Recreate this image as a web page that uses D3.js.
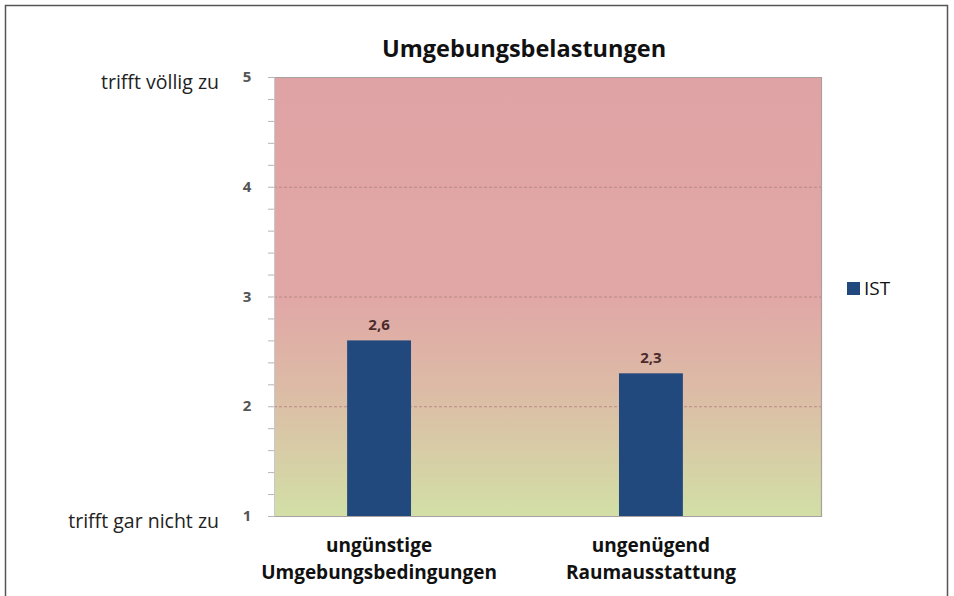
<!DOCTYPE html>
<html>
<head>
<meta charset="utf-8">
<script src="https://cdn.jsdelivr.net/npm/d3@7"></script>
<style>
  body { margin: 0; background: #fff; }
  svg { display: block; font-family: "Open Sans", "Noto Sans", sans-serif; }
</style>
</head>
<body>
<svg id="chart" width="954" height="596"></svg>
<script>
// ---- data ----
const categories = ["ungünstige\nUmgebungsbedingungen", "ungenügend\nRaumausstattung"];
const istValues = [2.6, 2.3];
const valueLabels = ["2,6", "2,3"];
const yTicks = [1, 2, 3, 4, 5];
const scaleLabels = [{v: 5, text: "trifft völlig zu"}, {v: 1, text: "trifft gar nicht zu"}];
const seriesName = "IST";

const svg = d3.select("#chart");

// outer frame (left, top, right)
svg.append("path")
    .attr("d", "M5.5,600 V5.5 H947.5 V600")
    .attr("fill", "none")
    .attr("stroke", "#555")
    .attr("stroke-width", 1.5);

const plot = {left: 274, right: 821, top: 77, bottom: 516};

const y = d3.scaleLinear().domain([1, 5]).range([plot.bottom, plot.top]);
// bars are not centred in the plot area in the original
const x = d3.scaleBand().domain(categories).range([243, 787]).paddingInner(0.765).paddingOuter(0.383);

// background gradient red -> green
const defs = svg.append("defs");
const grad = defs.append("linearGradient")
    .attr("id", "bg").attr("x1", 0).attr("y1", 0).attr("x2", 0).attr("y2", 1);
[[0, "#e0a3a5"], [0.5, "#e1a7a6"], [0.72, "#dcbca6"], [1, "#d2dfa6"]]
    .forEach(([o, c]) => grad.append("stop").attr("offset", o).attr("stop-color", c));

svg.append("rect")
    .attr("x", plot.left).attr("y", plot.top)
    .attr("width", plot.right - plot.left).attr("height", plot.bottom - plot.top)
    .attr("fill", "url(#bg)");

// gridlines
svg.append("g")
    .selectAll("line")
    .data(yTicks.filter(d => d > 1 && d < 5))
    .join("line")
    .attr("x1", plot.left).attr("x2", plot.right)
    .attr("y1", d => y(d) + 0.5).attr("y2", d => y(d) + 0.5)
    .attr("stroke", "#b88a88")
    .attr("stroke-dasharray", "3,2")
    .attr("stroke-width", 1);

// plot frame lines top/right/bottom
svg.append("path")
    .attr("d", `M${plot.left},${plot.top + 0.5} H${plot.right + 0.5} V${plot.bottom + 0.5} H${plot.left}`)
    .attr("fill", "none")
    .attr("stroke", "#a9a0a0")
    .attr("stroke-width", 1.2);

// y axis with minor ticks
const yAxis = d3.axisLeft(y).tickValues(d3.range(1, 5.01, 0.2)).tickSize(6).tickFormat("");
const ya = svg.append("g")
    .attr("transform", `translate(${plot.left},0)`)
    .call(yAxis);
ya.select(".domain").attr("stroke", "#c8c8c8");
ya.selectAll(".tick line").attr("stroke", "#b5b5b5");

svg.append("g")
    .selectAll("text")
    .data(yTicks)
    .join("text")
    .attr("x", 247)
    .attr("y", d => y(d) + 5)
    .attr("text-anchor", "middle")
    .attr("font-size", 15)
    .attr("font-weight", "bold")
    .attr("fill", "#555")
    .text(d => d);

// scale anchors on the left
svg.append("g")
    .selectAll("text")
    .data(scaleLabels)
    .join("text")
    .attr("x", 219)
    .attr("y", d => y(d.v) + 12)
    .attr("text-anchor", "end")
    .attr("font-size", 19.5)
    .attr("fill", "#222")
    .text(d => d.text);

// bars
svg.append("g")
    .selectAll("rect")
    .data(istValues)
    .join("rect")
    .attr("x", (d, i) => x(categories[i]))
    .attr("width", x.bandwidth())
    .attr("y", d => y(d))
    .attr("height", d => y(1) - y(d))
    .attr("fill", "#22497e");

// value labels
svg.append("g")
    .selectAll("text")
    .data(istValues)
    .join("text")
    .attr("x", (d, i) => x(categories[i]) + x.bandwidth() / 2)
    .attr("y", d => y(d) - 10)
    .attr("text-anchor", "middle")
    .attr("font-size", 15)
    .attr("font-weight", "bold")
    .attr("fill", "#4a2c2c")
    .text((d, i) => valueLabels[i]);

// category labels
const cat = svg.append("g")
    .selectAll("text")
    .data(categories)
    .join("text")
    .attr("text-anchor", "middle")
    .attr("font-size", 19)
    .attr("font-weight", "bold")
    .attr("fill", "#111");
cat.selectAll("tspan")
    .data(d => d.split("\n").map(t => ({t, c: d})))
    .join("tspan")
    .attr("x", d => x(d.c) + x.bandwidth() / 2)
    .attr("y", (d, i) => 552 + i * 27)
    .text(d => d.t);

// title
svg.append("text")
    .attr("x", 524).attr("y", 57)
    .attr("text-anchor", "middle")
    .attr("font-size", 23.5)
    .attr("font-weight", "bold")
    .attr("fill", "#111")
    .text("Umgebungsbelastungen");

// legend
const lg = svg.append("g").attr("transform", "translate(847,282)");
lg.append("rect").attr("width", 13).attr("height", 13).attr("fill", "#22497e");
lg.append("text").attr("x", 17).attr("y", 13).attr("font-size", 19).attr("fill", "#111").text(seriesName);
</script>
</body>
</html>
